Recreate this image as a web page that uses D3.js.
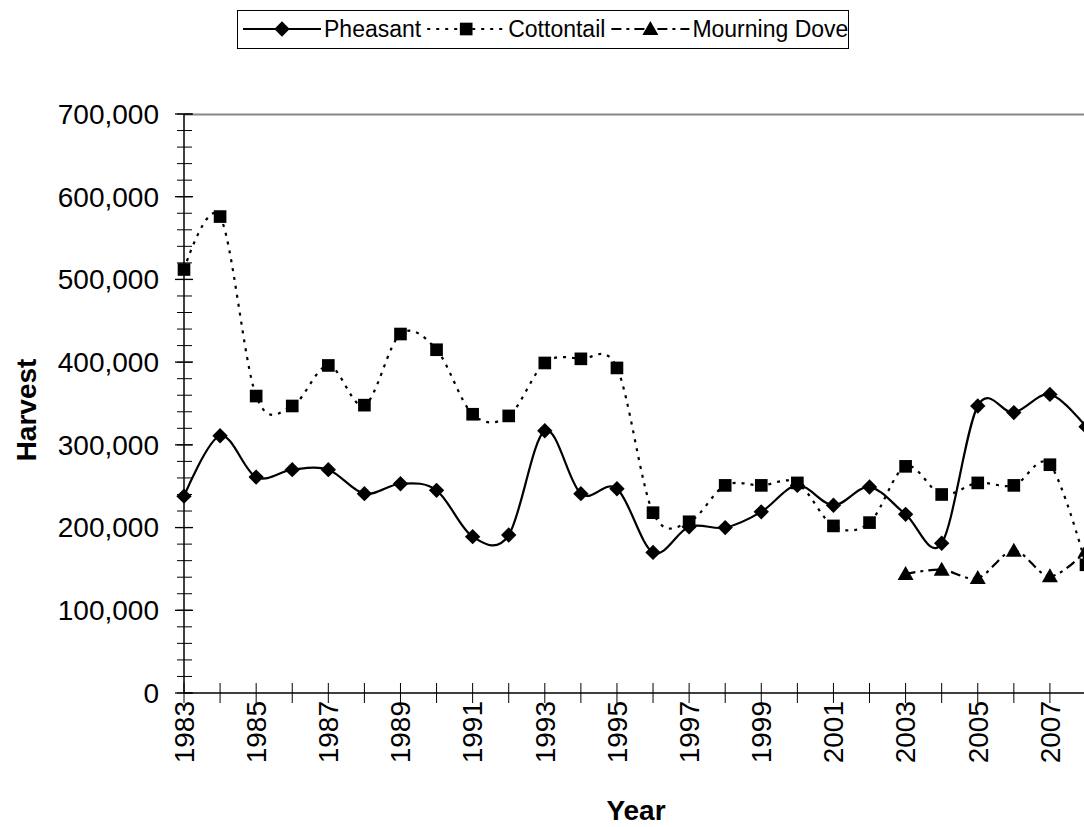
<!DOCTYPE html>
<html>
<head>
<meta charset="utf-8">
<script src="https://cdn.jsdelivr.net/npm/d3@7/dist/d3.min.js"></script>
<style>
  body { margin: 0; background: #fff; }
  text { font-family: "Liberation Sans", Arial, sans-serif; fill: #000; }
</style>
</head>
<body>
<svg id="chart"></svg>
<script>
// harvest per year
const years = d3.range(1983, 2009);
const pheasant = [238000, 311000, 261000, 270000, 270000, 241000, 253000, 245000, 189000, 191000,
  317000, 241000, 247000, 170000, 201000, 200000, 219000, 251000, 227000, 249000,
  216000, 181000, 347000, 339000, 361000, 322000];
const cottontail = [512000, 576000, 359000, 347000, 396000, 348000, 434000, 415000, 337000, 335000,
  399000, 404000, 393000, 218000, 207000, 251000, 251000, 254000, 202000, 206000,
  274000, 240000, 254000, 251000, 276000, 155000];
const dove = [null, null, null, null, null, null, null, null, null, null,
  null, null, null, null, null, null, null, null, null, null,
  144000, 149000, 139000, 172000, 141000, 172000];
const seriesNames = ["Pheasant", "Cottontail", "Mourning Dove"];
const yMajor = d3.range(0, 700001, 100000);
const yMinor = d3.range(0, 700001, 20000);
const xLabelYears = years.filter(d => d % 2 === 1);

const W = 1084, H = 827;
const svg = d3.select("#chart").attr("width", W).attr("height", H);

const x = d3.scaleLinear().domain([1983, 2008]).range([184, 1086]);
const y = d3.scaleLinear().domain([0, 700000]).range([693, 114]);

const series = [
  { name: seriesNames[0], values: pheasant, dash: null, symbol: "diamond" },
  { name: seriesNames[1], values: cottontail, dash: "3,6", symbol: "square" },
  { name: seriesNames[2], values: dove, dash: "10,5,3,5", symbol: "triangle" }
];

function drawSymbol(g, type) {
  if (type === "diamond") {
    g.append("path").attr("d", d3.symbol(d3.symbolSquare, 118)()).attr("transform", "rotate(45)");
  } else if (type === "square") {
    g.append("path").attr("d", d3.symbol(d3.symbolSquare, 160)());
  } else {
    g.append("path").attr("d", "M0,-8L8,6L-8,6Z");
  }
  g.selectAll("path").attr("fill", "#000");
}

// plot area top border
svg.append("line")
  .attr("x1", 184).attr("x2", W).attr("y1", 114.5).attr("y2", 114.5)
  .attr("stroke", "#888").attr("stroke-width", 2);

// y axis
const yAxis = svg.append("g");
yAxis.append("line").attr("x1", 184).attr("x2", 184).attr("y1", 114).attr("y2", 693)
  .attr("stroke", "#000").attr("stroke-width", 1.5);
yAxis.selectAll(".minor").data(yMinor).join("line")
  .attr("x1", 177).attr("x2", 192)
  .attr("y1", d => y(d)).attr("y2", d => y(d))
  .attr("stroke", "#000").attr("stroke-width", 1);
yAxis.selectAll(".major").data(yMajor).join("line")
  .attr("x1", 175).attr("x2", 193)
  .attr("y1", d => y(d)).attr("y2", d => y(d))
  .attr("stroke", "#000").attr("stroke-width", 1.3);
yAxis.selectAll("text").data(yMajor).join("text")
  .attr("x", 159).attr("y", d => y(d)).attr("dy", "0.35em")
  .attr("text-anchor", "end").style("font-size", "28px")
  .text(d => d3.format(",")(d));

// x axis
const xAxis = svg.append("g");
xAxis.append("line").attr("x1", 184).attr("x2", W).attr("y1", 693).attr("y2", 693)
  .attr("stroke", "#000").attr("stroke-width", 1.5);
xAxis.selectAll("line.tick").data(years).join("line")
  .attr("class", "tick")
  .attr("x1", d => x(d)).attr("x2", d => x(d))
  .attr("y1", 683).attr("y2", 703)
  .attr("stroke", "#000").attr("stroke-width", 1);
xAxis.selectAll("text").data(xLabelYears).join("text")
  .attr("transform", d => `translate(${x(d)},701) rotate(-90)`)
  .attr("dy", "0.35em").attr("text-anchor", "end")
  .style("font-size", "28px")
  .text(d => d);

// axis titles
svg.append("text").attr("x", 636).attr("y", 820).attr("text-anchor", "middle")
  .style("font-size", "28px").style("font-weight", "bold").text("Year");
svg.append("text").attr("transform", "translate(36,410) rotate(-90)")
  .attr("text-anchor", "middle")
  .style("font-size", "28px").style("font-weight", "bold").text("Harvest");

// lines and markers
const line = d3.line()
  .defined(d => d.v != null)
  .x(d => x(d.year)).y(d => y(d.v))
  .curve(d3.curveCatmullRom.alpha(0));

series.forEach(s => {
  const pts = years.map((yr, i) => ({ year: yr, v: s.values[i] }));
  svg.append("path")
    .datum(pts)
    .attr("d", line)
    .attr("fill", "none").attr("stroke", "#000").attr("stroke-width", 2.2)
    .attr("stroke-dasharray", s.dash);
  svg.selectAll(null).data(pts.filter(d => d.v != null)).join("g")
    .attr("transform", d => `translate(${x(d.year)},${y(d.v)})`)
    .each(function() { drawSymbol(d3.select(this), s.symbol); });
});

// legend
const legend = svg.append("g");
legend.append("rect").attr("x", 237.5).attr("y", 10.5).attr("width", 611).attr("height", 38)
  .attr("fill", "#fff").attr("stroke", "#000").attr("stroke-width", 1);
let lx = 243;
series.forEach(s => {
  legend.append("line").attr("x1", lx).attr("x2", lx + 78).attr("y1", 29).attr("y2", 29)
    .attr("stroke", "#000").attr("stroke-width", 2.2).attr("stroke-dasharray", s.dash);
  drawSymbol(legend.append("g").attr("transform", `translate(${lx + 39},29)`), s.symbol);
  const t = legend.append("text").attr("x", lx + 81).attr("y", 29).attr("dy", "0.35em")
    .style("font-size", "23px").text(s.name);
  lx += 81 + t.node().getComputedTextLength() + 6;
});
</script>
</body>
</html>
